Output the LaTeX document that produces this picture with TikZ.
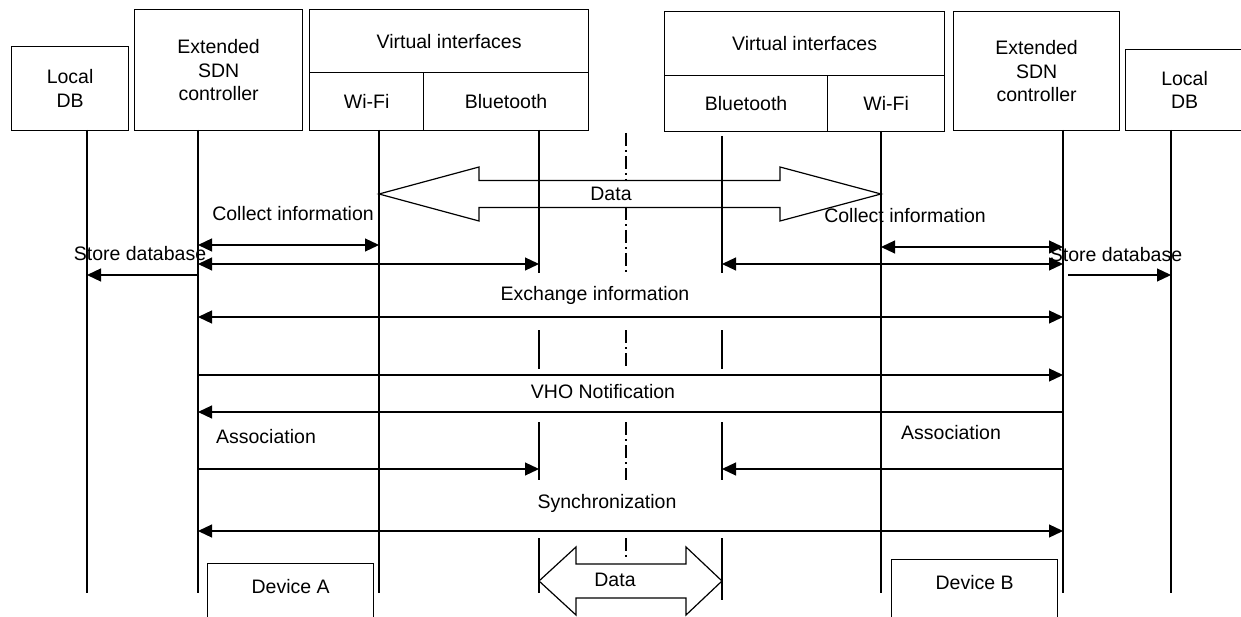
\documentclass[tikz,border=0pt]{standalone}
\usepackage{fontspec}
\setmainfont{Liberation Sans}
\usetikzlibrary{arrows.meta}
\begin{document}
\begin{tikzpicture}[x=1pt,y=-1pt,
  every node/.style={font=\fontsize{19.5}{23.5}\selectfont},
  box/.style={draw, line width=1.2pt, inner sep=0pt, anchor=north west, align=center},
  lbl/.style={inner sep=0pt},
  life/.style={line width=1.2pt},
  centre/.style={line width=1.2pt, dash pattern=on 13pt off 4pt on 2pt off 4pt},
  msg/.style={line width=1.2pt, -{Triangle[length=14pt,width=13pt]}},
  both/.style={line width=1.2pt, {Triangle[length=14pt,width=13pt]}-{Triangle[length=14pt,width=13pt]}},
  fat/.style={line width=1.2pt, line join=miter}]

\useasboundingbox (0,0) rectangle (1241,617);
\clip (0,0) rectangle (1241,617);

% ---- header boxes, left side
\node[box, minimum width=117pt, minimum height=84pt]  (lDBbox)  at (11,46)  {Local\\DB};
\node[box, minimum width=168pt, minimum height=121pt] (lSDNbox) at (134,9)  {Extended\\SDN\\controller};
\node[box, minimum width=279pt, minimum height=63pt]  (lVI)     at (309,9)  {Virtual interfaces};
\node[box, minimum width=114pt, minimum height=58pt]  (lWFbox)  at (309,72) {Wi-Fi};
\node[box, minimum width=165pt, minimum height=58pt]  (lBTbox)  at (423,72) {Bluetooth};

% ---- header boxes, right side
\node[box, minimum width=280pt, minimum height=64pt]  (rVI)     at (664,11)  {Virtual interfaces};
\node[box, minimum width=163pt, minimum height=56pt]  (rBTbox)  at (664,75)  {Bluetooth};
\node[box, minimum width=117pt, minimum height=56pt]  (rWFbox)  at (827,75)  {Wi-Fi};
\node[box, minimum width=166pt, minimum height=119pt] (rSDNbox) at (953,11)  {Extended\\SDN\\controller};
\node[box, minimum width=118pt, minimum height=81pt]  (rDBbox)  at (1125,49) {Local\\DB};

% ---- lifeline anchors
\coordinate (lDB)  at (87,130);
\coordinate (lSDN) at (198,130);
\coordinate (lWF)  at (379,130);
\coordinate (lBT)  at (539,130);
\coordinate (ctr)  at (626,133);
\coordinate (rBT)  at (722,136);
\coordinate (rWF)  at (881,131);
\coordinate (rSDN) at (1063,130);
\coordinate (rDB)  at (1171,130);
\coordinate (bot)  at (0,593);

% continuous lifelines
\foreach \p in {lDB,lSDN,lWF,rWF,rSDN,rDB}
  \draw[life] (\p) -- (\p |- bot);

% Bluetooth lifelines, broken around the labels
\foreach \a/\b in {130/273,330/369,422/480,538/593}
  \draw[life] (lBT |- 0,\a) -- (lBT |- 0,\b);
\foreach \a/\b in {136/273,330/369,422/480,538/600}
  \draw[life] (rBT |- 0,\a) -- (rBT |- 0,\b);

% dash-dot middle line
\foreach \a/\b in {133/180,207/273,330/369,422/480,538/558}
  \draw[centre] (ctr |- 0,\a) -- (ctr |- 0,\b);

% ---- wide data arrow between the Wi-Fi interfaces
\draw[fat] (lWF |- 0,194) -- (479,167) -- (479,180.5) -- (780,180.5) -- (780,167)
  -- (rWF |- 0,194) -- (780,221) -- (780,207.5) -- (479,207.5) -- (479,221) -- cycle;
\node[lbl] (dataTop) at (611,194) {Data};

% ---- message rows
\coordinate (yCollL) at (0,245);
\coordinate (yCollR) at (0,247);
\coordinate (yBoth)  at (0,264);
\coordinate (yStore) at (0,275);
\coordinate (yExch)  at (0,317);
\coordinate (yV1)    at (0,375);
\coordinate (yV2)    at (0,412);
\coordinate (yAs)    at (0,469);
\coordinate (ySync)  at (0,531);
\coordinate (rStore) at (1068,275);

\node[lbl] (collL)  at (293,214) {Collect information};
\node[lbl] (storeL) at (140,254) {Store database};
\node[lbl] (collR)  at (905,216) {Collect information};
\node[lbl] (storeR) at (1116,255) {Store database};

\draw[both] (lSDN |- yCollL) -- (lWF |- yCollL);
\draw[both] (lSDN |- yBoth)  -- (lBT |- yBoth);
\draw[msg]  (lSDN |- yStore) -- (lDB |- yStore);
\draw[both] (rWF |- yCollR)  -- (rSDN |- yCollR);
\draw[both] (rBT |- yBoth)   -- (rSDN |- yBoth);
\draw[msg]  (rStore)         -- (rDB |- yStore);

\node[lbl] (exch) at (595,295) {Exchange information};
\draw[both] (lSDN |- yExch) -- (rSDN |- yExch);

\node[lbl] (vho) at (603,392) {VHO Notification};
\draw[msg] (lSDN |- yV1) -- (rSDN |- yV1);
\draw[msg] (rSDN |- yV2) -- (lSDN |- yV2);

\node[lbl] (assocL) at (266,437) {Association};
\node[lbl] (assocR) at (951,433) {Association};
\draw[msg] (lSDN |- yAs) -- (lBT |- yAs);
\draw[msg] (rSDN |- yAs) -- (rBT |- yAs);

\node[lbl] (sync) at (607,503) {Synchronization};
\draw[both] (lSDN |- ySync) -- (rSDN |- ySync);

% ---- short data arrow between the Bluetooth interfaces
\draw[fat] (lBT |- 0,581) -- (576,547) -- (576,564) -- (686,564) -- (686,547)
  -- (rBT |- 0,581) -- (686,615) -- (686,598) -- (576,598) -- (576,615) -- cycle;
\node[lbl] (dataBot) at (615,580) {Data};

% ---- devices
\node[box, minimum width=166pt, text height=30pt, text depth=47pt] (devA) at (207,563) {Device A};
\node[box, minimum width=166pt, text height=30pt, text depth=47pt] (devB) at (891,559) {Device B};

\end{tikzpicture}
\end{document}
